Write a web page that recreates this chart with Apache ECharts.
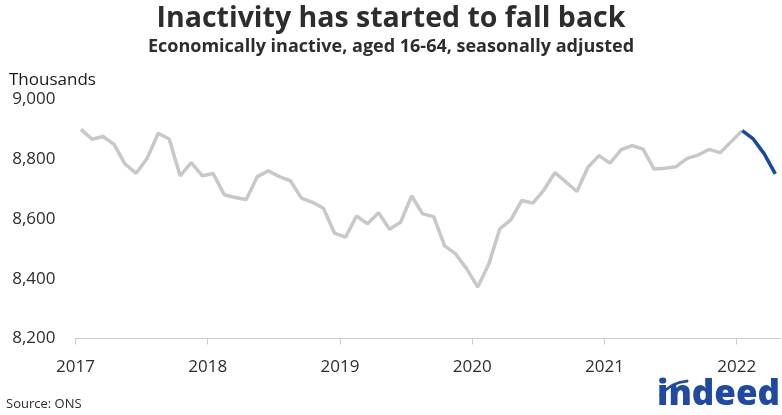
<!DOCTYPE html>
<html>
<head>
<meta charset="utf-8">
<script src="https://cdn.jsdelivr.net/npm/echarts@6/dist/echarts.min.js"></script>
<style>
html,body{margin:0;padding:0;background:#fff;}
#chart{width:782px;height:415px;}
</style>
</head>
<body>
<div id="chart"></div>
<script>
// Months (YYYY-MM) and economically inactive (thousands)
var months = [
'2017-01','2017-02','2017-03','2017-04','2017-05','2017-06','2017-07','2017-08','2017-09','2017-10','2017-11','2017-12',
'2018-01','2018-02','2018-03','2018-04','2018-05','2018-06','2018-07','2018-08','2018-09','2018-10','2018-11','2018-12',
'2019-01','2019-02','2019-03','2019-04','2019-05','2019-06','2019-07','2019-08','2019-09','2019-10','2019-11','2019-12',
'2020-01','2020-02','2020-03','2020-04','2020-05','2020-06','2020-07','2020-08','2020-09','2020-10','2020-11','2020-12',
'2021-01','2021-02','2021-03','2021-04','2021-05','2021-06','2021-07','2021-08','2021-09','2021-10','2021-11','2021-12',
'2022-01','2022-02','2022-03','2022-04'
];
var inactive = [
8900,8867,8876,8850,8784,8753,8803,8887,8868,8744,8789,8745,
8752,8681,8672,8665,8742,8761,8742,8728,8670,8656,8636,8553,
8539,8610,8584,8621,8566,8589,8677,8617,8608,8510,8483,8433,
8372,8449,8567,8597,8662,8653,8697,8755,8724,8692,8773,8812,
8787,8831,8846,8834,8767,8770,8775,8803,8814,8833,8822,8859,
8896,8868,8818,8751
];
var highlightFrom = '2022-01';
var yearTicks = [2017,2018,2019,2020,2021,2022];

function monthPos(m){ var p=m.split('-'); return +p[0] + (+p[1]-0.5)/12; }
var split = months.indexOf(highlightFrom);
var greyData = [], blueData = [];
months.forEach(function(m,i){
  if (i <= split) greyData.push([monthPos(m), inactive[i]]);
  if (i >= split) blueData.push([monthPos(m), inactive[i]]);
});

var FONT = "'Open Sans','Noto Sans',sans-serif";
var chart = echarts.init(document.getElementById('chart'), null, {renderer:'canvas'});
chart.setOption({
  animation:false,
  backgroundColor:'#fff',
  textStyle:{fontFamily:FONT},
  grid:{left:75.5, right:1.2, top:99.5, bottom:76.5},
  xAxis:{
    type:'value', min:2017, max:2022 + 4/12, interval:1,
    axisLine:{show:true, lineStyle:{color:'#cccccc', width:1}},
    axisTick:{show:true, length:6, lineStyle:{color:'#cccccc'}, customValues:yearTicks},
    axisLabel:{fontSize:17, color:'#2d2d2d', margin:20, fontFamily:FONT, customValues:yearTicks,
      formatter:function(v){return String(Math.round(v));}},
    splitLine:{show:false}
  },
  yAxis:{
    type:'value', min:8200, max:9000, interval:200,
    axisLine:{show:false}, axisTick:{show:false}, splitLine:{show:false},
    axisLabel:{fontSize:17, color:'#2d2d2d', margin:20, fontFamily:FONT,
      formatter:function(v){return v.toLocaleString('en-US');}}
  },
  series:[
    {type:'line', data:greyData, symbol:'none', lineStyle:{color:'#c8c8c8', width:3.5}, z:2},
    {type:'line', data:blueData, symbol:'none', lineStyle:{color:'#164a9e', width:3.5}, z:3}
  ],
  graphic:[
    {type:'text', left:'center', top:4, style:{text:'Inactivity has started to fall back', font:"bold 28.5px "+FONT, fill:'#2d2d2d'}},
    {type:'text', left:'center', top:38, style:{text:'Economically inactive, aged 16-64, seasonally adjusted', font:"bold 18px "+FONT, fill:'#2d2d2d'}},
    {type:'text', left:9, top:72, style:{text:'Thousands', font:"17px "+FONT, fill:'#1a1a1a'}},
    {type:'text', left:6, top:398, style:{text:'Source: ONS', font:"13px "+FONT, fill:'#2d2d2d'}},
    {type:'text', left:657, top:378, style:{text:'indeed', font:"800 35px "+FONT, fill:'#1f4aa0'}},
    {type:'arc', shape:{cx:690, cy:418, r:37, startAngle:3.8, endAngle:4.63}, style:{stroke:'#1f4aa0', lineWidth:3, lineCap:'round', fill:null}}
  ]
});
</script>
</body>
</html>
